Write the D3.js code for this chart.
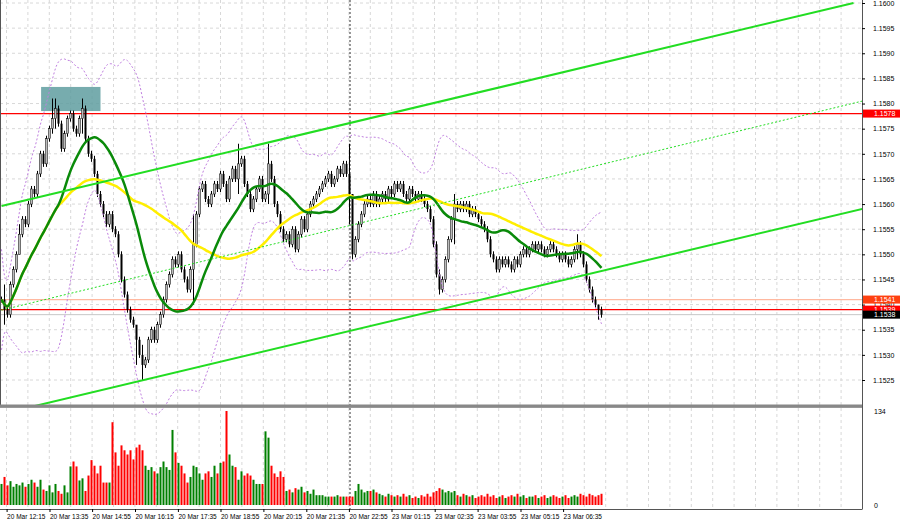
<!DOCTYPE html>
<html>
<head>
<script src="https://d3js.org/d3.v7.min.js"></script>
<style>body{margin:0;background:#fff}text{font-family:"Liberation Sans",Arial,sans-serif}</style>
</head>
<body>
<script>
// closes in pips above 1.1500, one per 5-min candle
const base = 1.15;
const closes = [41,39,38,44,47,50,54,57,56,60,63,62,66,70,68,73,75,77,79,76,71,74,77,78,75,74,77,79,73,70,
69,66,62,60,58,56,58,55,54,50,45,42,39,37,36,33,30,28,29,33,35,33,36,38,41,44,46,49,48,50,
47,45,43,47,52,58,63,64,61,60,62,64,63,66,64,61,65,67,65,68,69,64,62,59,61,63,65,61,62,68,
65,60,58,55,53,54,52,55,51,54,57,55,58,60,61,62,63,64,65,66,64,65,67,66,68,66,62,50,53,56,
58,60,61,60,62,60,61,62,61,63,62,64,63,64,62,61,63,62,61,62,61,60,59,57,52,46,43,45,49,53,
57,60,59,60,59,60,58,59,58,57,56,55,53,50,49,47,49,48,49,48,47,49,48,50,51,50,51,52,51,52,
51,50,51,52,51,50,49,50,49,48,49,51,52,50,48,45,43,41,40,39,38];
// notable wick extremes: [index, high, low]
const spikes = [[1,44,36],[6,56,50],[17,81,74],[18,81,75],[27,81,74],[45,35,28],[47,32,25],[64,58,40],[79,72,62],[89,72,60],[116,72,56],[117,62,49],[146,47,42],[151,62,52],[192,54,49],[199,40,37]];
const volumes = [30,40,28,34,26,30,28,32,26,30,36,32,26,36,22,20,28,18,30,20,16,28,18,55,62,55,35,38,20,42,
64,56,45,56,32,32,32,118,75,56,85,78,72,78,65,82,86,78,56,50,54,48,45,54,62,54,50,107,75,60,
56,45,32,40,56,54,45,36,45,48,40,56,45,60,62,134,72,56,54,36,48,42,45,42,36,30,30,30,105,96,
56,45,40,48,40,20,22,18,24,22,26,18,20,16,22,14,14,14,12,12,12,12,14,12,12,12,12,12,20,30,
22,18,20,20,22,18,16,14,12,16,14,12,14,12,16,12,14,10,12,10,14,12,16,12,18,20,24,22,18,20,
18,20,14,12,16,14,12,14,10,12,14,12,16,12,14,10,12,14,10,12,14,12,16,12,14,10,12,12,14,10,
12,14,10,12,14,12,10,12,14,10,12,14,12,16,14,12,16,14,12,14,16];
const timeLabels = ["20 Mar 12:15","20 Mar 13:35","20 Mar 14:55","20 Mar 16:15","20 Mar 17:35","20 Mar 18:55","20 Mar 20:15",
"20 Mar 21:35","20 Mar 22:55","23 Mar 01:15","23 Mar 02:35","23 Mar 03:55","23 Mar 05:15","23 Mar 06:35"];
const labelIdx = [1.7,16,30.2,44.5,58.8,73,87.3,101.6,115.8,130,144.4,158.7,173,187.2];
const priceTicks = [1.1525,1.1530,1.1535,1.1540,1.1545,1.1550,1.1555,1.1560,1.1565,1.1570,1.1575,1.1580,1.1585,1.1590,1.1595,1.1600];
// channel lines: [[idx, price],[idx, price]]
const channelUp = [[0,1.15596],[284,1.16000]];
const channelLo = [[9.5,1.15196],[289.5,1.15594]];
const channelMid = [[0,1.15389],[287,1.15805]];
const levels = [{p:1.1578,c:"#ff0000",label:"1.1578",bg:"#ff0000"},{p:1.1541,c:"#ffb8a0",label:"1.1541",bg:"#ff4010"},
{p:1.1539,c:"#ff0000",label:"1.1539",bg:"#ff0000"},{p:1.1538,c:"#c8c8c8",label:"1.1538",bg:"#000"}];
const zone = {i0:13.2, i1:33, hi:1.15833, lo:1.15785};

const W=900,H=524,PR=862;
const svg=d3.select("body").append("svg").attr("width",W).attr("height",H);
const x=d3.scaleLinear().domain([0,200]).range([1.5,601.5]);
const y=d3.scaleLinear().domain([1.1525,1.1600]).range([380,3]);
const yv=d3.scaleLinear().domain([0,134]).range([505,411]);
const P=v=>base+v/10000;

// grid
const g=svg.append("g");
for(let k=0;k<41;k++){const gx=6.5+21.4*k; if(gx>PR)break;
 g.append("line").attr("x1",gx).attr("x2",gx).attr("y1",0).attr("y2",509).attr("stroke","#d8d8d8").attr("stroke-dasharray","3,3");}
priceTicks.forEach(p=>g.append("line").attr("x1",0).attr("x2",PR).attr("y1",y(p)).attr("y2",y(p)).attr("stroke","#d8d8d8").attr("stroke-dasharray","3,3"));
svg.append("line").attr("x1",350).attr("x2",350).attr("y1",0).attr("y2",509).attr("stroke","#333").attr("stroke-dasharray","2,2");

// zone
svg.append("rect").attr("x",x(zone.i0)).attr("width",x(zone.i1)-x(zone.i0)).attr("y",y(zone.hi)).attr("height",y(zone.lo)-y(zone.hi)).attr("fill","#5f9ea0").attr("opacity",0.85);

// levels
levels.forEach(l=>svg.append("line").attr("x1",0).attr("x2",PR).attr("y1",y(l.p)).attr("y2",y(l.p)).attr("stroke",l.c).attr("stroke-width",l.c=="#c8c8c8"?1:1.3));

// candles
const cand=closes.map((c,i)=>{const o=i?closes[i-1]:c;let hi=Math.max(o,c)+0.6,lo=Math.min(o,c)-0.6;
 const s=spikes.find(s=>s[0]===i); if(s){hi=s[1];lo=s[2];} return {i,o,c,hi,lo};});
const cg=svg.append("g");
cand.forEach(d=>{
 cg.append("line").attr("x1",x(d.i)).attr("x2",x(d.i)).attr("y1",y(P(d.hi))).attr("y2",y(P(d.lo))).attr("stroke","#000");
 const t=y(P(Math.max(d.o,d.c))),b=y(P(Math.min(d.o,d.c)));
 cg.append("rect").attr("x",x(d.i)-1).attr("width",2).attr("y",t).attr("height",Math.max(1,b-t))
  .attr("fill",d.c>=d.o?"#bbb":"#000").attr("stroke",d.c>=d.o?"#000":"none").attr("stroke-width",0.5);
});

// indicators
function sma(n){return closes.map((c,i)=>{const a=closes.slice(Math.max(0,i-n+1),i+1);return d3.mean(a);});}
const line=d3.line().x((d,i)=>x(i)).y(d=>y(P(d))).curve(d3.curveBasis);
const bbN=20,bbM=sma(bbN);
const sd=closes.map((c,i)=>d3.deviation(closes.slice(Math.max(0,i-bbN+1),i+1))||4);
svg.append("path").attr("d",line(bbM.map((m,i)=>m+2*sd[i]+2))).attr("fill","none").attr("stroke","#c080e0").attr("stroke-dasharray","2,2");
svg.append("path").attr("d",line(bbM.map((m,i)=>m-2*sd[i]-2))).attr("fill","none").attr("stroke","#c080e0").attr("stroke-dasharray","2,2");
svg.append("path").attr("d",line(sma(45))).attr("fill","none").attr("stroke","#ffee00").attr("stroke-width",2.5);
svg.append("path").attr("d",line(sma(20))).attr("fill","none").attr("stroke","#0a8a0a").attr("stroke-width",2.5);

// channels
const seg=(a,st,dash)=>svg.append("line").attr("x1",x(a[0][0])).attr("y1",y(a[0][1])).attr("x2",x(a[1][0])).attr("y2",y(a[1][1]))
 .attr("stroke","#22dd22").attr("stroke-width",st).attr("stroke-dasharray",dash);
svg.append("clipPath").attr("id","c").append("rect").attr("width",PR).attr("height",405);
seg(channelUp,2,null).attr("clip-path","url(#c)");seg(channelLo,2,null).attr("clip-path","url(#c)");seg(channelMid,1,"2,2").attr("clip-path","url(#c)");

// volumes
cand.forEach(d=>svg.append("rect").attr("x",x(d.i)-1).attr("width",2).attr("y",yv(volumes[d.i])).attr("height",505-yv(volumes[d.i]))
 .attr("fill",d.c>=d.o?"#008000":"#ff0000"));

// frame
svg.append("rect").attr("x",0.5).attr("y",-2).attr("width",PR).attr("height",409).attr("fill","none").attr("stroke","#555");
svg.append("line").attr("x1",0).attr("x2",PR).attr("y1",406).attr("y2",406).attr("stroke","#888").attr("stroke-width",3);
svg.append("line").attr("x1",0).attr("x2",PR).attr("y1",509.5).attr("y2",509.5).attr("stroke","#555");
svg.append("line").attr("x1",PR+0.5).attr("x2",PR+0.5).attr("y1",406).attr("y2",509.5).attr("stroke","#555");

// axes
const ya=svg.append("g").attr("transform",`translate(${PR},0)`).call(d3.axisRight(y).tickValues(priceTicks).tickSize(3).tickFormat(d3.format(".4f")));
ya.select(".domain").attr("stroke","#555");ya.selectAll("text").attr("font-size",7).attr("x",11);
levels.forEach(l=>{svg.append("rect").attr("x",PR+1).attr("y",y(l.p)-4).attr("width",38).attr("height",8).attr("fill",l.bg);
 svg.append("text").attr("x",PR+12).attr("y",y(l.p)+2.5).attr("font-size",7).attr("fill","#fff").text(l.label);});
svg.append("text").attr("x",PR+12).attr("y",414).attr("font-size",7).text("134");
svg.append("text").attr("x",PR+12).attr("y",508).attr("font-size",7).text("0");
const xa=svg.append("g").attr("transform","translate(0,509)").call(d3.axisBottom(x).tickValues(labelIdx).tickSize(3).tickFormat((d,i)=>timeLabels[i]));
xa.select(".domain").remove();xa.selectAll("text").attr("font-size",6.5).attr("text-anchor","start").attr("dy","0.6em");
</script>
</body>
</html>
